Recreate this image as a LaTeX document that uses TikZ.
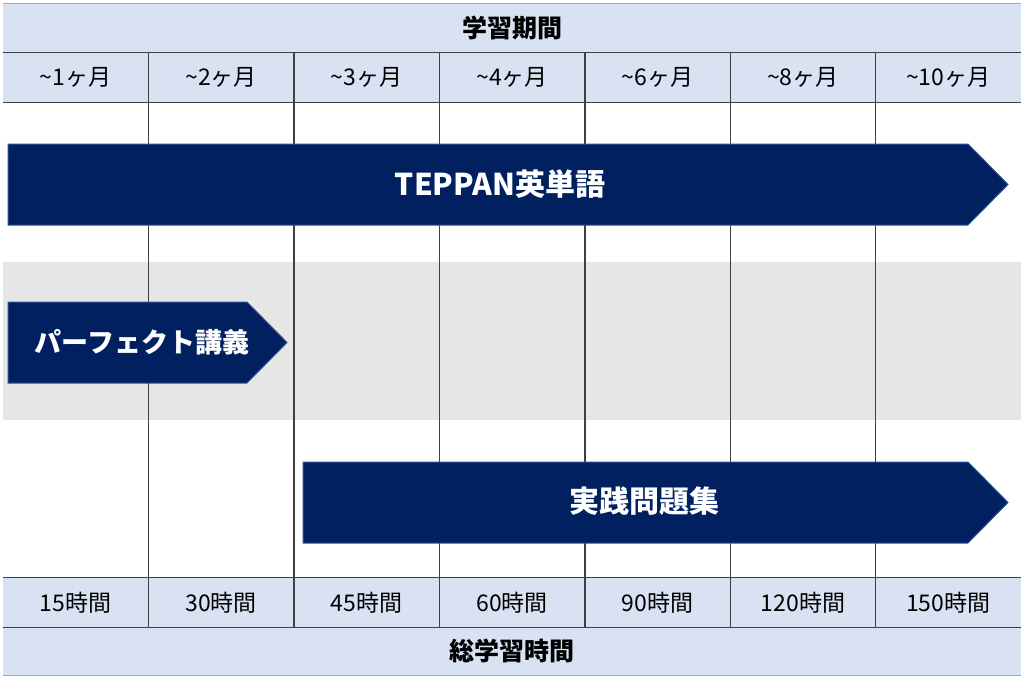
\documentclass[tikz,border=0pt]{standalone}
\usepackage{fontspec}
\setmainfont{Noto Sans CJK JP}
\usepackage{tikz}
\usetikzlibrary{positioning}
\definecolor{headblue}{RGB}{217,226,243}
\definecolor{edgeblue}{RGB}{143,170,220}
\definecolor{bandgray}{RGB}{231,230,230}
\definecolor{navy}{RGB}{0,32,96}
\definecolor{navyedge}{RGB}{47,85,151}
\definecolor{gridgray}{RGB}{64,64,64}

\begin{document}
\begin{tikzpicture}[
    x=1pt, y=-1pt,
    head/.style={rectangle, fill=headblue, inner sep=0pt, minimum width=1018pt, minimum height=48pt, font=\fontsize{25}{28}\selectfont\bfseries},
    cell/.style={rectangle, fill=headblue, inner sep=0pt, minimum width=145.43pt, minimum height=50pt, font=\fontsize{23}{26}\selectfont},
    bar/.style={fill=navy, draw=navyedge, line width=1pt},
    bartext/.style={text=white, font=\fontsize{30}{34}\selectfont\bfseries},
    grid/.style={gridgray, line width=1.2pt},
    rim/.style={edgeblue, line width=1.2pt}
]
    \useasboundingbox (0,0) rectangle (1024,680);

    % Header and footer
    \node[head] (period) at (512,28) {学習期間};
    \node[head] (total) at (512,651) {総学習時間};
    \foreach \m [count=\i] in {1,2,3,4,6,8,10} {
        \node[cell] (m\i) at ({3+145.43*(\i-0.5)},77) {\textasciitilde\m ヶ月};
    }
    \foreach \h [count=\i] in {15,30,45,60,90,120,150} {
        \node[cell, minimum height=49pt] (h\i) at ({3+145.43*(\i-0.5)},602.5) {\h 時間};
    }

    % Gray band
    \fill[bandgray] (3,262) rectangle (1021,420);

    % Grid lines
    \draw[rim] (period.north west) -- (period.north east);
    \draw[rim] (total.south west) -- (total.south east);
    \draw[grid] (period.south west) -- (period.south east);
    \draw[grid] (m1.south west) -- (m7.south east);
    \draw[grid] (h1.north west) -- (h7.north east);
    \draw[grid] (h1.south west) -- (h7.south east);
    \foreach \i in {1,...,6} {
        \draw[grid] (m\i.north east) -- (h\i.south east);
    }

    % Study bars
    \fill[bar] (8,144) -- (968,144) -- (1008,184.5) -- (968,225) -- (8,225) -- cycle;
    \node[bartext] (teppan) at (500,184.5) {TEPPAN英単語};

    \fill[bar] (8,302) -- (247,302) -- (287,342.5) -- (247,383) -- (8,383) -- cycle;
    \node[bartext, font=\fontsize{27}{30}\selectfont\bfseries] (lecture) at (142,342.5) {パーフェクト講義};

    \fill[bar] (303,462) -- (968,462) -- (1008,502.5) -- (968,543) -- (303,543) -- cycle;
    \node[bartext] (drill) at (644,501) {実践問題集};
\end{tikzpicture}
\end{document}
